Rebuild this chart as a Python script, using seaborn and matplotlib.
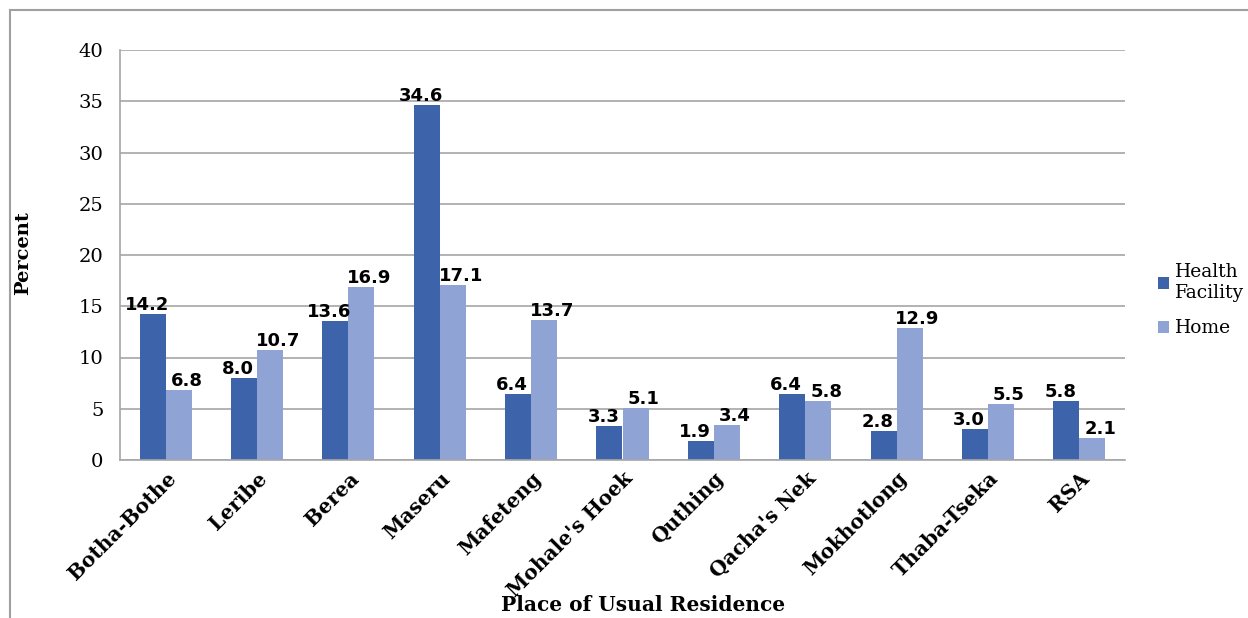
import matplotlib.pyplot as plt
import pandas as pd
import seaborn as sns
from matplotlib.patches import Rectangle

# Data
districts = [
    "Botha-Bothe",
    "Leribe",
    "Berea",
    "Maseru",
    "Mafeteng",
    "Mohale's Hoek",
    "Quthing",
    "Qacha's Nek",
    "Mokhotlong",
    "Thaba-Tseka",
    "RSA",
]
health_facility = [14.2, 8.0, 13.6, 34.6, 6.4, 3.3, 1.9, 6.4, 2.8, 3.0, 5.8]
home = [6.8, 10.7, 16.9, 17.1, 13.7, 5.1, 3.4, 5.8, 12.9, 5.5, 2.1]
series = ["Health\nFacility", "Home"]
colors = ["#3D64AB", "#8FA4D4"]

df = pd.DataFrame(
    {
        "district": districts * 2,
        "place": [series[0]] * len(districts) + [series[1]] * len(districts),
        "percent": health_facility + home,
    }
)

sns.set_style("white")
plt.rcParams["text.color"] = "black"
plt.rcParams["axes.labelcolor"] = "black"
plt.rcParams["xtick.color"] = "black"
plt.rcParams["ytick.color"] = "black"
serif = ["DejaVu Serif"]

fig = plt.figure(figsize=(12.48, 6.18), dpi=100)
ax = fig.add_axes([120 / 1248, 1 - 460 / 618, 1005 / 1248, 410 / 618])

sns.barplot(
    data=df,
    x="district",
    y="percent",
    hue="place",
    order=districts,
    hue_order=series,
    palette=colors,
    width=0.57,
    saturation=1,
    edgecolor="none",
    ax=ax,
)

# value labels, nudged sideways like the original
shifts = [-6, 8]
for cont, dx in zip(ax.containers, shifts):
    for bar in cont:
        h = bar.get_height()
        ax.annotate(
            f"{h:.1f}",
            (bar.get_x() + bar.get_width() / 2, h),
            xytext=(dx, 0),
            textcoords="offset pixels",
            ha="center",
            va="bottom",
            fontsize=13,
            fontweight="bold",
            family="DejaVu Sans",
            color="black",
        )

ax.set_ylim(0, 40)
ax.set_xlim(-0.5, len(districts) - 0.5)
ax.set_yticks(range(0, 41, 5))
ax.yaxis.grid(True, color="#a6a6a6", linewidth=1.2)
ax.set_axisbelow(True)
for side in ["top", "right"]:
    ax.spines[side].set_visible(False)
for side in ["left", "bottom"]:
    ax.spines[side].set_color("#a6a6a6")
    ax.spines[side].set_linewidth(1.2)

ax.tick_params(axis="y", length=6, width=1.2, color="#a6a6a6", labelcolor="black", pad=6)
ax.tick_params(axis="x", length=0, pad=6, labelcolor="black")
for t in ax.get_yticklabels():
    t.set_family(serif)
    t.set_fontsize(14)
ax.set_xticks(range(len(districts)))
ax.set_xticklabels(
    districts,
    rotation=45,
    ha="right",
    rotation_mode="anchor",
    fontsize=14.5,
    fontweight="bold",
    family=serif,
)

ax.set_ylabel("Percent", fontsize=14, fontweight="bold", family=serif)
ax.yaxis.set_label_coords(-88 / 1005, 0.505)
ax.set_xlabel("Place of Usual Residence", fontsize=14.5, fontweight="bold", family=serif)
ax.xaxis.set_label_coords(0.52, -135 / 410)

ax.legend(
    loc="center left",
    bbox_to_anchor=(1.016, 0.39),
    frameon=False,
    prop={"family": serif, "size": 13.5},
    handlelength=0.6,
    handleheight=0.6,
    handletextpad=0.3,
    labelspacing=0.95,
)

# outer chart frame (screenshot is cropped on the right and bottom)
fig.patches.append(
    Rectangle(
        (10 / 1248, -0.1),
        1.2,
        1.1 - 10 / 618,
        transform=fig.transFigure,
        fill=False,
        edgecolor="#a0a0a0",
        linewidth=1.5,
    )
)

fig.savefig("out.png", dpi=100)
